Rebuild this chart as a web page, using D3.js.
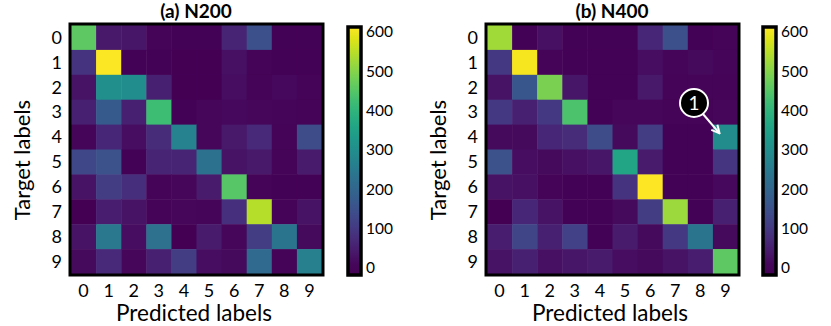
<!DOCTYPE html>
<html>
<head>
<meta charset="utf-8">
<script src="https://cdn.jsdelivr.net/npm/d3@7"></script>
<style>
  body { margin: 0; background: #fff; }
  svg { display: block; font-family: Lato, "Open Sans", sans-serif; }
</style>
</head>
<body>
<div id="chart"></div>
<script>
// class labels
var classes = ["0", "1", "2", "3", "4", "5", "6", "7", "8", "9"];
var cbTicks = [0, 100, 200, 300, 400, 500, 600];

// confusion matrix, N200 (rows = target, cols = predicted)
var n200 = [
  [460,  40,  35,   5,   4,   4,  60, 150,   3,   3],
  [ 90, 610,   3,   3,   2,   2,  25,   5,   3,   3],
  [ 30, 305, 300,  55,   2,   2,  20,   5,  12,   5],
  [ 55, 170,  55, 420,   3,  10,  12,  10,   8,   5],
  [  8,  65,  20,  75, 270,  10,  40,  70,   5, 140],
  [130, 155,   3,  60,  60, 230,  30,  40,   5,  45],
  [ 30, 110,  80,   5,  10,  45, 450,   5,   3,   3],
  [  0,  50,  30,   5,  10,   8,  85, 545,   5,  30],
  [ 30, 245,  20, 225,   2,  45,  10, 110, 235,  15],
  [ 15,  70,  10,  55, 110,  20,  15, 210,   5, 265]
];

// confusion matrix, N400
var n400 = [
  [525,   3,  25,   3,   3,   3,  65, 150,   3,   5],
  [100, 605,   5,   3,   3,   3,  20,   8,  15,   8],
  [ 30, 165, 490,  35,   3,   3,  40,   5,   5,   5],
  [100,  55, 100, 440,   3,  10,  10,   5,   5,  10],
  [ 15,  15,  65,  75, 140,  15, 110,   3,   3, 295],
  [155,  20,  15,  25,  35, 360,  45,   3,   3,  95],
  [ 30,  25,   5,   3,   3,  90, 615,   3,   3,  12],
  [  0,  65,  30,   3,   3,  15, 110, 520,   3,  55],
  [ 50, 125,  55, 115,   3,  45,  15, 100, 235,  15],
  [ 30,  55,  25,  35,  45,  20,  15,  30,  50, 460]
];

var W = 831, H = 326;
var svg = d3.select("#chart").append("svg")
    .attr("width", W)
    .attr("height", H);

var defs = svg.append("defs");
defs.append("marker")
    .attr("id", "arrowhead")
    .attr("viewBox", "0 0 10 10")
    .attr("refX", 8).attr("refY", 5)
    .attr("markerWidth", 5).attr("markerHeight", 5)
    .attr("orient", "auto")
  .append("path")
    .attr("d", "M1,1 L9,5 L1,9")
    .attr("fill", "none")
    .attr("stroke", "#fff")
    .attr("stroke-width", 2);

function drawPanel(opts) {
  var data = opts.data;
  var x = d3.scaleBand().domain(classes).range([opts.left, opts.left + 251]);
  var y = d3.scaleBand().domain(classes).range([25, 274]);

  // colourbar scale: 0 at y=268, 600 at y=32
  var cb = d3.scaleLinear().domain([0, 600]).range([268, 32]);
  var vmax = cb.invert(27);
  var color = d3.scaleSequential(d3.interpolateViridis).domain([0, vmax]).clamp(true);

  var g = svg.append("g");

  var cells = [];
  data.forEach(function(row, i) {
    row.forEach(function(v, j) {
      cells.push({r: classes[i], c: classes[j], v: v});
    });
  });

  g.selectAll("rect.cell")
    .data(cells)
    .enter().append("rect")
      .attr("class", "cell")
      .attr("x", function(d) { return x(d.c); })
      .attr("y", function(d) { return y(d.r); })
      .attr("width", x.bandwidth() + 0.5)
      .attr("height", y.bandwidth() + 0.5)
      .attr("fill", function(d) { return color(d.v); });

  // frame
  g.append("rect")
    .attr("x", opts.left - 1)
    .attr("y", 24)
    .attr("width", 253)
    .attr("height", 251)
    .attr("fill", "none")
    .attr("stroke", "#000")
    .attr("stroke-width", 3);

  // tick labels
  g.selectAll("text.xl")
    .data(classes)
    .enter().append("text")
      .attr("class", "xl")
      .attr("x", function(d) { return x(d) + x.bandwidth() / 2; })
      .attr("y", 297)
      .attr("text-anchor", "middle")
      .attr("font-size", 18)
      .text(function(d) { return d; });

  g.selectAll("text.yl")
    .data(classes)
    .enter().append("text")
      .attr("class", "yl")
      .attr("x", opts.left - 9)
      .attr("y", function(d) { return y(d) + y.bandwidth() / 2; })
      .attr("dy", "0.35em")
      .attr("text-anchor", "end")
      .attr("font-size", 18)
      .text(function(d) { return d; });

  // titles
  g.append("text")
    .attr("x", opts.left + 125)
    .attr("y", 18)
    .attr("text-anchor", "middle")
    .attr("font-size", 19)
    .attr("font-weight", "bold")
    .text(opts.title);

  g.append("text")
    .attr("x", opts.left + 123)
    .attr("y", 321)
    .attr("text-anchor", "middle")
    .attr("font-size", 22.5)
    .text("Predicted labels");

  g.append("text")
    .attr("transform", "translate(" + (opts.left - 41) + ",160) rotate(-90)")
    .attr("text-anchor", "middle")
    .attr("font-size", 22)
    .text("Target labels");

  // colourbar
  var cbTop = 27, cbBot = 275, cbX = opts.cbX, cbW = 13;
  var gid = "grad" + opts.id;
  var grad = defs.append("linearGradient")
    .attr("id", gid)
    .attr("x1", 0).attr("y1", 1).attr("x2", 0).attr("y2", 0);
  d3.range(0, 1.0001, 0.05).forEach(function(t) {
    var yy = cbBot - t * (cbBot - cbTop);
    grad.append("stop")
      .attr("offset", t)
      .attr("stop-color", color(cb.invert(yy)));
  });
  g.append("rect")
    .attr("x", cbX)
    .attr("y", cbTop)
    .attr("width", cbW)
    .attr("height", cbBot - cbTop)
    .attr("fill", "url(#" + gid + ")")
    .attr("stroke", "#000")
    .attr("stroke-width", 3.5);

  var ax = g.append("g")
    .attr("transform", "translate(" + (cbX + cbW + 1) + ",0)")
    .call(d3.axisRight(cb).tickValues(cbTicks).tickSize(0).tickPadding(4));
  ax.select(".domain").remove();
  ax.selectAll("text")
    .attr("font-family", "Lato, 'Open Sans', sans-serif")
    .attr("font-size", 15.5)
    .attr("fill", "#000");

  return {x: x, y: y, g: g};
}

drawPanel({id: "a", data: n200, left: 71, cbX: 348, title: "(a) N200"});
var pb = drawPanel({id: "b", data: n400, left: 487, cbX: 763, title: "(b) N400"});

// annotation (1) pointing at cell target 4 / predicted 9
var tx = pb.x("9") + 6, ty = pb.y("4") + 8;
pb.g.append("line")
  .attr("x1", 703).attr("y1", 114)
  .attr("x2", tx).attr("y2", ty)
  .attr("stroke", "#fff")
  .attr("stroke-width", 2)
  .attr("marker-end", "url(#arrowhead)");
pb.g.append("circle")
  .attr("cx", 694).attr("cy", 103)
  .attr("r", 14)
  .attr("fill", "#000")
  .attr("stroke", "#fff")
  .attr("stroke-width", 2);
pb.g.append("text")
  .attr("x", 694).attr("y", 103)
  .attr("dy", "0.36em")
  .attr("text-anchor", "middle")
  .attr("font-size", 19)
  .attr("fill", "#fff")
  .text("1");
</script>
</body>
</html>
